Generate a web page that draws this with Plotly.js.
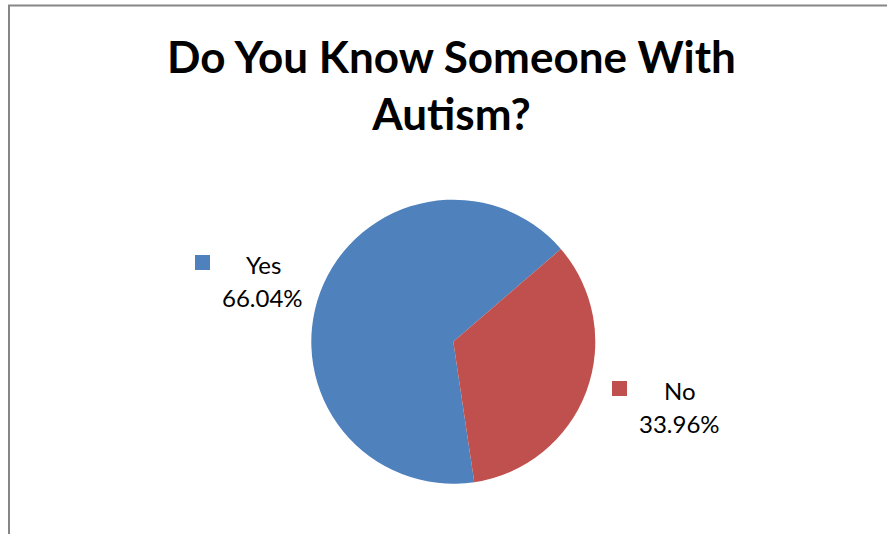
<!DOCTYPE html>
<html>
<head>
<meta charset="utf-8">
<script src="https://cdn.plot.ly/plotly-3.0.1.min.js"></script>
<style>
html,body{margin:0;padding:0;background:#fff;}
#chart{width:887px;height:534px;}
</style>
</head>
<body>
<div id="chart"></div>
<script>
const categories = ["Yes", "No"];
const values = [66.04, 33.96];
const colors = ["#4F81BD", "#C0504D"];
const chartTitle = "Do You Know Someone With<br>Autism?";

const W = 887, H = 534;
const cx = 453.3, cy = 341.7, r = 142;
const px = x => x / W;
const py = y => 1 - y / H;

const trace = {
  type: "pie",
  labels: categories,
  values: values,
  sort: false,
  direction: "clockwise",
  rotation: 171.5,
  marker: { colors: colors, line: { width: 0 } },
  textinfo: "none",
  hoverinfo: "label+percent",
  showlegend: false,
  domain: { x: [px(cx - r), px(cx + r)], y: [py(cy + r), py(cy - r)] }
};

const labelFont = { family: "Lato, 'Open Sans', sans-serif", size: 24, color: "#000" };
const legendPos = [
  { sq: [195, 255], name: [263, 264], pct: [262, 297] },
  { sq: [612, 381], name: [680, 390], pct: [679.5, 423] }
];

const annotations = [];
const shapes = [
  { type: "rect", xref: "paper", yref: "paper",
    x0: px(9), x1: 1.2, y0: -0.2, y1: py(5.5),
    line: { color: "#868686", width: 2 }, fillcolor: "rgba(0,0,0,0)" }
];
const total = values.reduce((a, b) => a + b, 0);
categories.forEach((c, i) => {
  const p = legendPos[i];
  shapes.push({ type: "rect", xref: "paper", yref: "paper",
    x0: px(p.sq[0]), x1: px(p.sq[0] + 15), y0: py(p.sq[1] + 15), y1: py(p.sq[1]),
    line: { width: 0 }, fillcolor: colors[i] });
  annotations.push({ xref: "paper", yref: "paper", x: px(p.name[0]), y: py(p.name[1]),
    text: c, showarrow: false, xanchor: "center", yanchor: "middle", font: labelFont });
  annotations.push({ xref: "paper", yref: "paper", x: px(p.pct[0]), y: py(p.pct[1]),
    text: (values[i] / total * 100).toFixed(2) + "%", showarrow: false,
    xanchor: "center", yanchor: "middle", font: labelFont });
});

const layout = {
  width: W, height: H,
  margin: { l: 0, r: 0, t: 0, b: 0 },
  paper_bgcolor: "#fff",
  title: {
    text: chartTitle,
    x: 0.509, xanchor: "center",
    y: 1 - 73 / H, yanchor: "top", yref: "container",
    font: { family: "Lato, 'Open Sans', sans-serif", size: 44, weight: "bold", color: "#000" }
  },
  shapes: shapes,
  annotations: annotations
};

Plotly.newPlot("chart", [trace], layout, { displayModeBar: false, staticPlot: true });
</script>
</body>
</html>
